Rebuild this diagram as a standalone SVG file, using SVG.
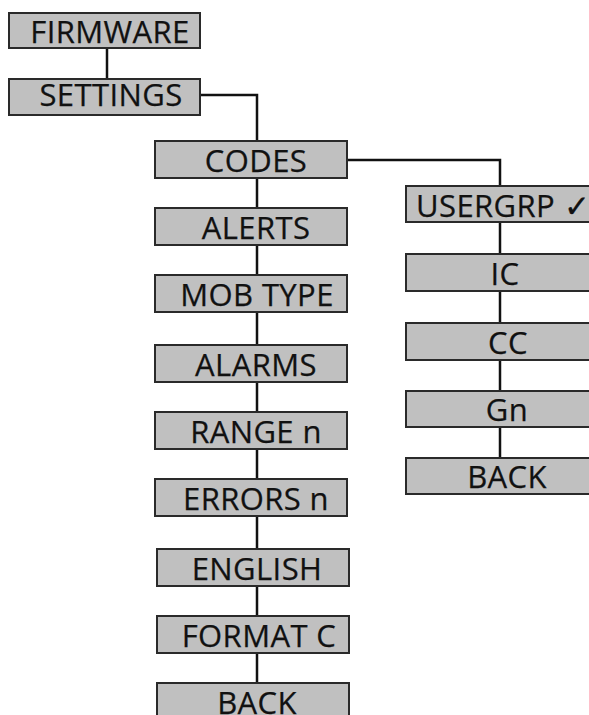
<svg xmlns="http://www.w3.org/2000/svg" width="589" height="715" viewBox="0 0 589 715">
<style>
.box{fill:#c0c0c0;stroke:#2a2a2a;stroke-width:2}
.lbl{font-family:"Open Sans","Noto Sans",sans-serif;font-size:31px;letter-spacing:0.4px;fill:#111;stroke:#111;stroke-width:0.25;text-anchor:middle}
.con{fill:none;stroke:#111;stroke-width:2.5}
</style>
<rect width="589" height="715" fill="#fff"/>
<g id="connectors">
<path class="con" d="M107,48 V79"/>
<path class="con" d="M200,95 H257 V140"/>
<path class="con" d="M257,178 V690"/>
<path class="con" d="M347,160 H500 V186"/>
<path class="con" d="M500,222 V460"/>
</g>
<g id="firmware"><rect class="box" x="9" y="13" width="191" height="35"/><text class="lbl" x="110" y="43">FIRMWARE</text></g>
<g id="settings"><rect class="box" x="9" y="79" width="191" height="36"/><text class="lbl" x="111" y="106">SETTINGS</text></g>
<g id="codes"><rect class="box" x="155" y="141" width="192" height="37"/><text class="lbl" x="256" y="172">CODES</text></g>
<g id="alerts"><rect class="box" x="155" y="208" width="192" height="37"/><text class="lbl" x="256" y="239">ALERTS</text></g>
<g id="mobtype"><rect class="box" x="155" y="275" width="192" height="37"/><text class="lbl" x="257" y="306">MOB TYPE</text></g>
<g id="alarms"><rect class="box" x="155" y="345" width="192" height="37"/><text class="lbl" x="256" y="376">ALARMS</text></g>
<g id="range"><rect class="box" x="155" y="412" width="192" height="37"/><text class="lbl" x="256" y="443">RANGE n</text></g>
<g id="errors"><rect class="box" x="155" y="479" width="192" height="37"/><text class="lbl" x="256" y="510">ERRORS n</text></g>
<g id="english"><rect class="box" x="157" y="549" width="192" height="37"/><text class="lbl" x="257" y="580">ENGLISH</text></g>
<g id="formatc"><rect class="box" x="157" y="616" width="192" height="37"/><text class="lbl" x="259" y="647">FORMAT C</text></g>
<g id="back1"><rect class="box" x="157" y="683" width="192" height="37"/><text class="lbl" x="257" y="714">BACK</text></g>
<g id="usergrp"><rect class="box" x="406" y="186" width="192" height="36"/><text class="lbl" x="503" y="217">USERGRP ✓</text></g>
<g id="ic"><rect class="box" x="406" y="254" width="192" height="37"/><text class="lbl" x="505" y="285">IC</text></g>
<g id="cc"><rect class="box" x="406" y="323" width="192" height="37"/><text class="lbl" x="508" y="354">CC</text></g>
<g id="gn"><rect class="box" x="406" y="391" width="192" height="36"/><text class="lbl" x="507" y="421">Gn</text></g>
<g id="back2"><rect class="box" x="406" y="458" width="192" height="36"/><text class="lbl" x="507" y="488">BACK</text></g>
</svg>
